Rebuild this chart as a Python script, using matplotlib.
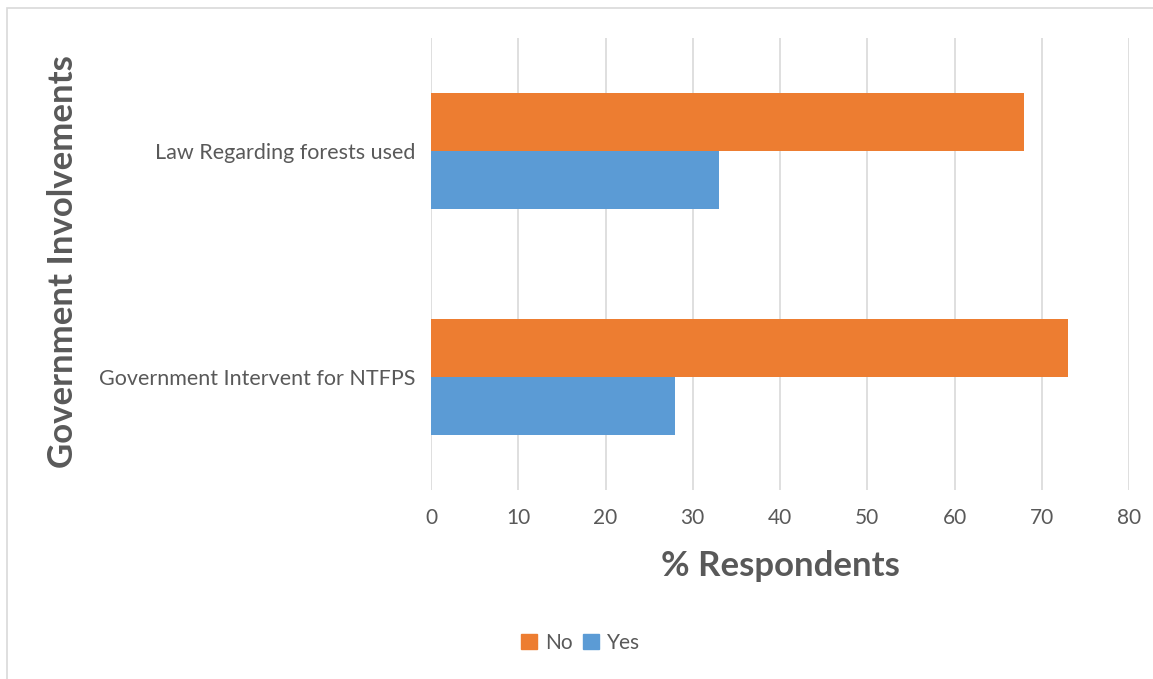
import matplotlib
matplotlib.use("Agg")
import matplotlib.pyplot as plt
from matplotlib.patches import Rectangle, Patch
import numpy as np

categories = ["Government Intervent for NTFPS", "Law Regarding forests used"]
no_values = [73, 68]
yes_values = [28, 33]
xticks = [0, 10, 20, 30, 40, 50, 60, 70, 80]

plt.rcParams['font.family'] = ['Lato', 'DejaVu Sans']
txt = '#595959'
orange = '#ED7D31'
blue = '#5B9BD5'

fig = plt.figure(figsize=(11.53, 6.79), dpi=100)
ax = fig.add_axes([431/1153, 1-490/679, (1129-431)/1153, (490-38)/679])

y = np.arange(len(categories))
h = 0.258
ax.barh(y + h/2, no_values, height=h, color=orange, label='No', zorder=3)
ax.barh(y - h/2, yes_values, height=h, color=blue, label='Yes', zorder=3)

ax.set_xlim(0, 80)
ax.set_ylim(-0.5, 1.5)
ax.set_xticks(xticks)
ax.set_yticks(y)
ax.set_yticklabels(categories)
ax.grid(axis='x', color='#d9d9d9', linewidth=1.2, zorder=0)
for s in ax.spines.values():
    s.set_visible(False)
ax.tick_params(axis='both', length=0, colors=txt)
ax.tick_params(axis='x', pad=13, labelsize=15)
ax.tick_params(axis='y', pad=11, labelsize=15.5)

fig.text(780/1153, 1-566/679, '% Respondents', ha='center', va='center',
         fontsize=25, fontweight='bold', color=txt)
fig.text(63/1153, 1-262/679, 'Government Involvements', ha='center', va='center',
         rotation=90, fontsize=25, fontweight='bold', color=txt)

handles = [Patch(color=orange, label='No'), Patch(color=blue, label='Yes')]
fig.legend(handles=handles, loc='center', bbox_to_anchor=(581/1153, 1-643/679),
           ncol=2, frameon=False, fontsize=15, handlelength=0.75, handleheight=0.75,
           handletextpad=0.4, columnspacing=0.5, labelcolor=txt)

fig.patches.append(Rectangle((7/1153, -0.1), 1.2, 1-8/679+0.1, transform=fig.transFigure,
                             fill=False, edgecolor='#d9d9d9', linewidth=1.2))

fig.savefig('out.png', dpi=100)
